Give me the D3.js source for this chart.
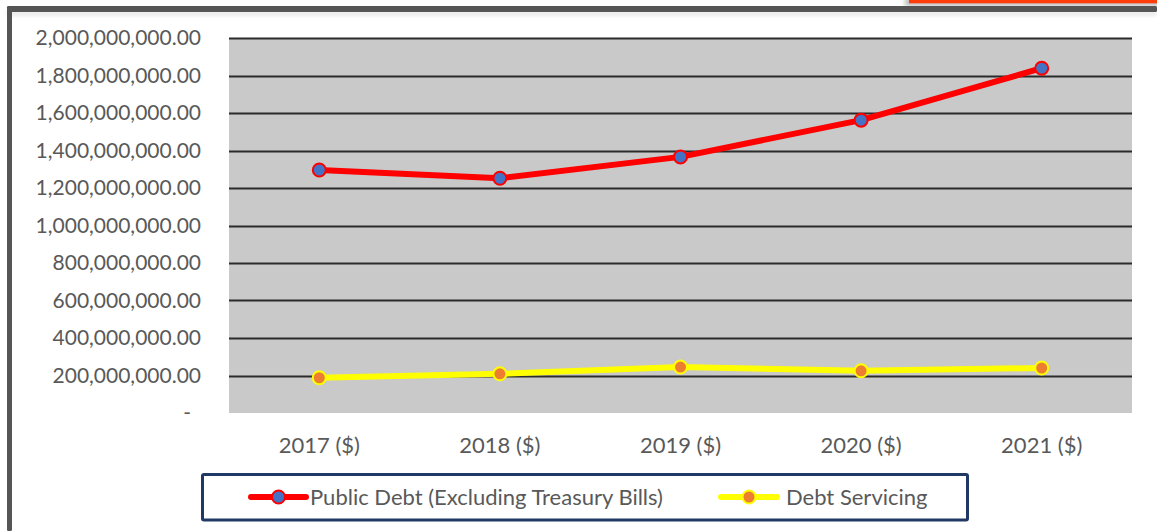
<!DOCTYPE html>
<html>
<head>
<meta charset="utf-8">
<script src="https://cdn.jsdelivr.net/npm/d3@7"></script>
<style>
  html, body { margin: 0; padding: 0; background: #fff; }
  svg { display: block; }
  text { font-family: Lato, "Open Sans", sans-serif; fill: #595959; }
</style>
</head>
<body>
<svg id="chart" width="1157" height="531"></svg>
<script>
// Public debt vs. debt servicing, 2017–2021
const years = ["2017 ($)", "2018 ($)", "2019 ($)", "2020 ($)", "2021 ($)"];
const publicDebt = [1296000000, 1252000000, 1366000000, 1562000000, 1839000000];
const debtServicing = [188000000, 209000000, 245000000, 225000000, 240000000];
const yTicks = [0, 200000000, 400000000, 600000000, 800000000, 1000000000,
                1200000000, 1400000000, 1600000000, 1800000000, 2000000000];
const seriesNames = ["Public Debt (Excluding Treasury Bills)", "Debt Servicing"];

const svg = d3.select("#chart");
const W = 1157, H = 531;
const plot = { left: 229, right: 1132, top: 38, bottom: 413 };

// Outer frame: orange tab with soft shadow, grey top and left rules
const defs = svg.append("defs");
defs.append("filter").attr("id", "soft").attr("x", "-10%").attr("y", "-100%")
  .attr("width", "120%").attr("height", "400%")
  .append("feGaussianBlur").attr("stdDeviation", 2);

svg.append("rect").attr("x", 905).attr("y", -2).attr("width", 260).attr("height", 8)
  .attr("fill", "#bdbdbd").attr("filter", "url(#soft)");
svg.append("rect").attr("x", 909).attr("y", 0).attr("width", 248).attr("height", 3.3)
  .attr("fill", "#ff3d0a");
svg.append("rect").attr("x", 7).attr("y", 12).attr("width", W - 7).attr("height", 3)
  .attr("fill", "#dcdcdc").attr("filter", "url(#soft)");
svg.append("rect").attr("x", 7).attr("y", 6).attr("width", W - 7).attr("height", 6)
  .attr("fill", "#555555").attr("rx", 1.5);
svg.append("rect").attr("x", 7).attr("y", 6).attr("width", 5).attr("height", H - 6)
  .attr("fill", "#555555").attr("rx", 1.5);

const x = d3.scaleBand().domain(years).range([plot.left, plot.right]);
const y = d3.scaleLinear().domain([0, 2000000000]).range([plot.bottom, plot.top]);

// Plot background
svg.append("rect")
  .attr("x", plot.left).attr("y", plot.top)
  .attr("width", plot.right - plot.left).attr("height", plot.bottom - plot.top)
  .attr("fill", "#c9c9c9");

// Gridlines (none on the zero line)
svg.append("g").selectAll("line").data(yTicks.filter(d => d > 0)).join("line")
  .attr("x1", plot.left).attr("x2", plot.right)
  .attr("y1", d => Math.round(y(d)) + 0.5).attr("y2", d => Math.round(y(d)) + 0.5)
  .attr("stroke", "#2b2b2b").attr("stroke-width", 2);

// Y axis labels, accounting style
const fmt = d3.format(",.2f");
const yAxis = d3.axisLeft(y).tickValues(yTicks).tickSize(0).tickPadding(0)
  .tickFormat(d => d === 0 ? "-" : fmt(d));
const gy = svg.append("g").attr("transform", `translate(${plot.left - 28},0)`).call(yAxis);
gy.select(".domain").remove();
gy.selectAll("text").attr("font-size", 21).attr("font-family", null).attr("fill", "#595959")
  .attr("dx", d => d === 0 ? -10 : 0);

// X axis labels
const xAxis = d3.axisBottom(x).tickSize(0).tickPadding(0);
const gx = svg.append("g").attr("transform", `translate(0,${plot.bottom + 24})`).call(xAxis);
gx.select(".domain").remove();
gx.selectAll("text").attr("font-size", 22).attr("font-family", null).attr("fill", "#595959");

const cx = d => x(d) + x.bandwidth() / 2;
const line = d3.line().x((d, i) => cx(years[i])).y(d => y(d));

const series = [
  { name: seriesNames[0], values: publicDebt, stroke: "#ff0000", fill: "#4472c4", width: 6 },
  { name: seriesNames[1], values: debtServicing, stroke: "#ffff00", fill: "#ed7d31", width: 6 }
];

series.forEach(s => {
  svg.append("path").datum(s.values)
    .attr("d", line).attr("fill", "none")
    .attr("stroke", s.stroke).attr("stroke-width", s.width)
    .attr("stroke-linejoin", "round");
  svg.append("g").selectAll("circle").data(s.values).join("circle")
    .attr("cx", (d, i) => cx(years[i])).attr("cy", d => y(d))
    .attr("r", 6.5).attr("fill", s.fill)
    .attr("stroke", s.stroke).attr("stroke-width", 2);
});

// Legend
svg.append("rect").attr("x", 202.5).attr("y", 474.5).attr("width", 765).attr("height", 45.5)
  .attr("fill", "#fff").attr("stroke", "#203864").attr("stroke-width", 3).attr("rx", 1.5);

const legendItems = [
  { s: series[0], x0: 251, x1: 306, tx: 310 },
  { s: series[1], x0: 721, x1: 777, tx: 786 }
];
const ly = 497;
legendItems.forEach(it => {
  svg.append("line").attr("x1", it.x0).attr("x2", it.x1).attr("y1", ly).attr("y2", ly)
    .attr("stroke", it.s.stroke).attr("stroke-width", it.s.width).attr("stroke-linecap", "round");
  svg.append("circle").attr("cx", (it.x0 + it.x1) / 2).attr("cy", ly).attr("r", 6.5)
    .attr("fill", it.s.fill).attr("stroke", it.s.stroke).attr("stroke-width", 2);
  svg.append("text").attr("x", it.tx).attr("y", ly).attr("dy", "0.35em")
    .attr("font-size", 22).text(it.s.name);
});
</script>
</body>
</html>
